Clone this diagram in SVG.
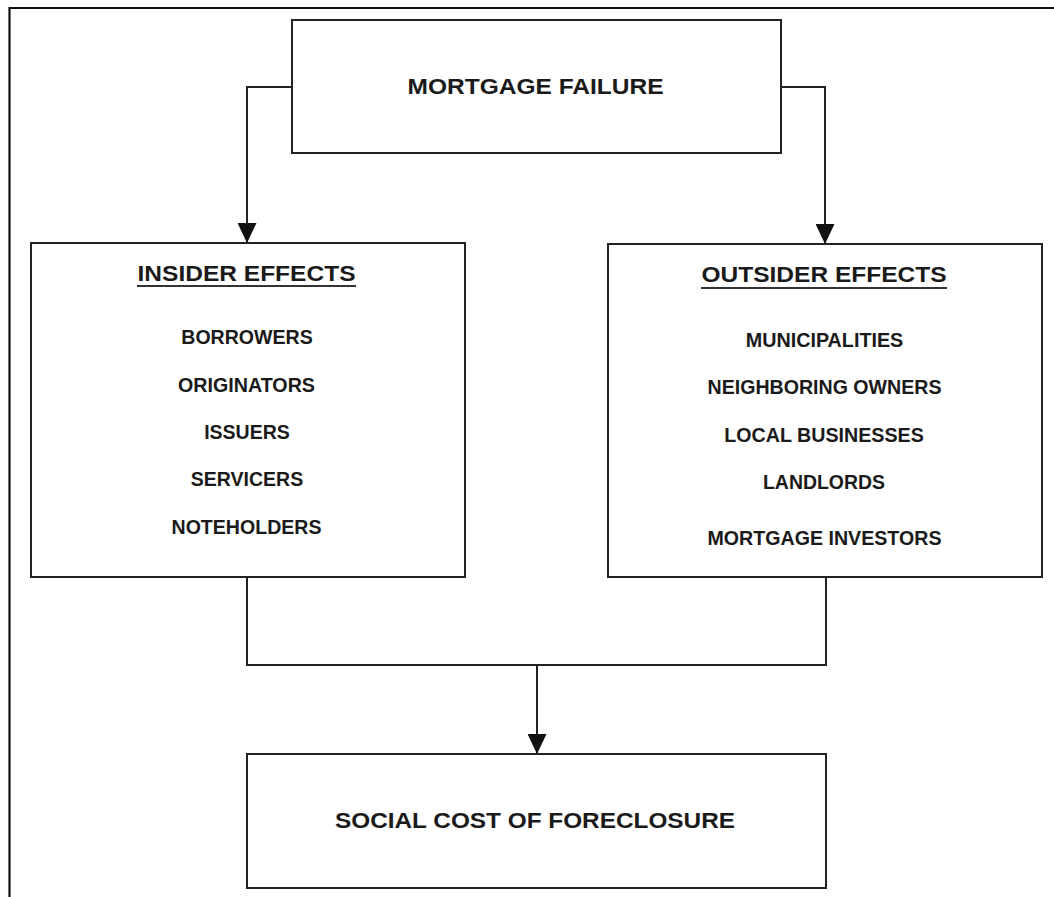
<svg xmlns="http://www.w3.org/2000/svg" width="1054" height="897" viewBox="0 0 1054 897">
  <defs>
    <marker id="arrow" markerUnits="userSpaceOnUse" viewBox="0 0 20 19" refX="20" refY="9.5" markerWidth="20" markerHeight="19" orient="auto">
      <path d="M0,0 L20,9.5 L0,19 Z" fill="#111"/>
    </marker>
    <style>
      .box { fill: #fff; stroke: #222; stroke-width: 2; }
      .conn { fill: none; stroke: #222; stroke-width: 2; }
      .title { font-family: "Liberation Sans", Arial, sans-serif; font-weight: bold; font-size: 22px; fill: #1a1a1a; text-anchor: middle; }
      .item { font-family: "Liberation Sans", Arial, sans-serif; font-weight: bold; font-size: 19.5px; fill: #1a1a1a; text-anchor: middle; }
      .uline { stroke: #333; stroke-width: 2; }
    </style>
  </defs>
  <rect width="1054" height="897" fill="#fff"/>
  <g id="frame">
    <path d="M9.5,897 L9.5,8 L1054,8" fill="none" stroke="#111" stroke-width="2.2"/>
  </g>
  <g id="connectors">
    <path class="conn" d="M292,87 L247,87 L247,243" marker-end="url(#arrow)"/>
    <path class="conn" d="M781,87 L825,87 L825,244" marker-end="url(#arrow)"/>
    <path class="conn" d="M247,577 L247,665 L826,665 L826,577"/>
    <path class="conn" d="M537,665 L537,754" marker-end="url(#arrow)"/>
  </g>
  <g id="mortgage-failure">
    <rect class="box" x="292" y="20" width="489" height="133"/>
    <text class="title" x="535.5" y="94" textLength="256" lengthAdjust="spacingAndGlyphs">MORTGAGE FAILURE</text>
  </g>
  <g id="insider-effects">
    <rect class="box" x="31" y="243" width="434" height="334"/>
    <text class="title" x="246.5" y="281" textLength="218" lengthAdjust="spacingAndGlyphs">INSIDER EFFECTS</text>
    <line class="uline" x1="137" y1="286" x2="356" y2="286"/>
    <text class="item" x="247" y="344" textLength="131.5" lengthAdjust="spacingAndGlyphs">BORROWERS</text>
    <text class="item" x="246.5" y="391.5" textLength="137" lengthAdjust="spacingAndGlyphs">ORIGINATORS</text>
    <text class="item" x="247" y="439">ISSUERS</text>
    <text class="item" x="247" y="486">SERVICERS</text>
    <text class="item" x="246.5" y="533.5" textLength="150" lengthAdjust="spacingAndGlyphs">NOTEHOLDERS</text>
  </g>
  <g id="outsider-effects">
    <rect class="box" x="608" y="244" width="434" height="333"/>
    <text class="title" x="824" y="282" textLength="245" lengthAdjust="spacingAndGlyphs">OUTSIDER EFFECTS</text>
    <line class="uline" x1="701" y1="288" x2="947" y2="288"/>
    <text class="item" x="824.5" y="347" textLength="157.5" lengthAdjust="spacingAndGlyphs">MUNICIPALITIES</text>
    <text class="item" x="824.5" y="394" textLength="234" lengthAdjust="spacingAndGlyphs">NEIGHBORING OWNERS</text>
    <text class="item" x="824" y="441.5" textLength="199.5" lengthAdjust="spacingAndGlyphs">LOCAL BUSINESSES</text>
    <text class="item" x="824" y="489" textLength="122" lengthAdjust="spacingAndGlyphs">LANDLORDS</text>
    <text class="item" x="824.5" y="545" textLength="234" lengthAdjust="spacingAndGlyphs">MORTGAGE INVESTORS</text>
  </g>
  <g id="social-cost">
    <rect class="box" x="247" y="754" width="579" height="134"/>
    <text class="title" x="535" y="828" textLength="400" lengthAdjust="spacingAndGlyphs">SOCIAL COST OF FORECLOSURE</text>
  </g>
</svg>
